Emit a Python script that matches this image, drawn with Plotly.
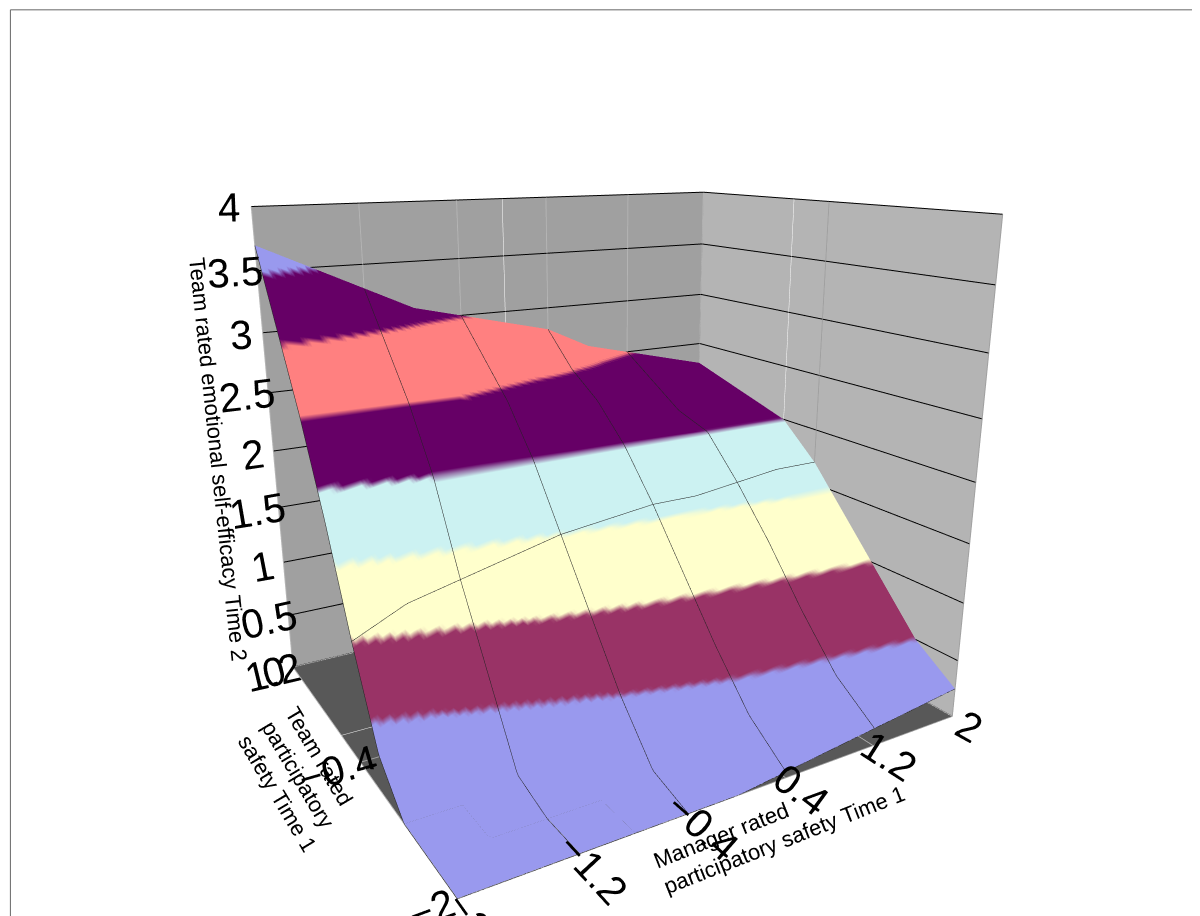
import plotly.graph_objects as go

# manager rated (x) and team rated (y) grid, z = team emotional self-efficacy T2
manager = [-2, -1.6, -1.2, -0.8, -0.4, 0, 0.4, 0.8, 1.2, 1.6, 2]
team = [-2, -1.6, -1.2, -0.8, -0.4, 0, 0.4, 0.8, 1.2]
z_vals = [
    [0, 0, 0, 0, 0, 0, 0.05, 0.1, 0.15, 0.2, 0.25],
    [0, 0, 0, 0, 0.1, 0.2, 0.3, 0.35, 0.4, 0.45, 0.5],
    [0, 0, 0.1, 0.3, 0.5, 0.6, 0.7, 0.75, 0.8, 0.85, 0.9],
    [0.3, 0.5, 0.7, 0.9, 1.0, 1.1, 1.15, 1.2, 1.25, 1.3, 1.3],
    [1.0, 1.2, 1.3, 1.4, 1.5, 1.55, 1.6, 1.6, 1.65, 1.7, 1.7],
    [1.8, 1.9, 2.0, 2.0, 2.0, 2.0, 2.0, 2.0, 2.0, 2.0, 2.0],
    [2.5, 2.5, 2.5, 2.5, 2.4, 2.3, 2.3, 2.2, 2.1, 2.1, 2.1],
    [3.1, 3.0, 2.9, 2.8, 2.7, 2.6, 2.5, 2.4, 2.3, 2.2, 2.2],
    [3.7, 3.5, 3.3, 3.1, 3.0, 2.9, 2.8, 2.6, 2.5, 2.4, 2.3],
]
band_colors = ['#9999ee', '#993366', '#ffffcc', '#ccf2f2',
               '#660066', '#ff8080', '#660066', '#9999ee']
x_ticks = [-2, -1.2, -0.4, 0.4, 1.2, 2]
y_ticks = [-2, -0.4, 1.2]
z_ticks = [0, 0.5, 1, 1.5, 2, 2.5, 3, 3.5, 4]

# stepped colorscale, one band per 0.5
scale = []
n = len(band_colors)
for i, c in enumerate(band_colors):
    scale.append([i / n, c])
    scale.append([(i + 1) / n, c])

fig = go.Figure(go.Surface(
    x=manager, y=team, z=z_vals,
    colorscale=scale, cmin=0, cmax=4, showscale=False,
    lighting=dict(ambient=1, diffuse=0, specular=0, fresnel=0),
    contours=dict(
        x=dict(show=True, color='#222', width=1),
        y=dict(show=True, color='#222', width=1),
    ),
))

ax_font = dict(family='Arial', size=22, color='black')
fig.update_layout(
    width=1200, height=916,
    paper_bgcolor='white',
    margin=dict(l=0, r=0, t=0, b=0),
    font=dict(family='Arial', color='black'),
    scene=dict(
        xaxis=dict(title=dict(text='Manager rated<br>participatory safety Time 1', font=ax_font),
                   tickvals=x_ticks, range=[-2, 2], tickfont=ax_font,
                   showbackground=True, backgroundcolor='#b4b4b4',
                   gridcolor='#b4b4b4', showspikes=False),
        yaxis=dict(title=dict(text='Team rated<br>participatory<br>safety Time 1', font=ax_font),
                   tickvals=y_ticks, range=[-2, 1.2], tickfont=ax_font,
                   showbackground=True, backgroundcolor='#a0a0a0',
                   gridcolor='#a0a0a0', showspikes=False),
        zaxis=dict(title=dict(text='Team rated emotional self-efficacy Time 2', font=ax_font),
                   tickvals=z_ticks, range=[0, 4], tickfont=ax_font,
                   showbackground=True, backgroundcolor='#585858',
                   gridcolor='black', showspikes=False),
        aspectmode='manual', aspectratio=dict(x=1.2, y=1.0, z=1.1),
        camera=dict(eye=dict(x=-1.2, y=-2.0, z=0.7)),
    ),
    shapes=[dict(type='rect', xref='paper', yref='paper', x0=0.002, y0=0.002,
                 x1=0.998, y1=0.998, line=dict(color='#666', width=1))],
)

fig.write_html('out.html')
